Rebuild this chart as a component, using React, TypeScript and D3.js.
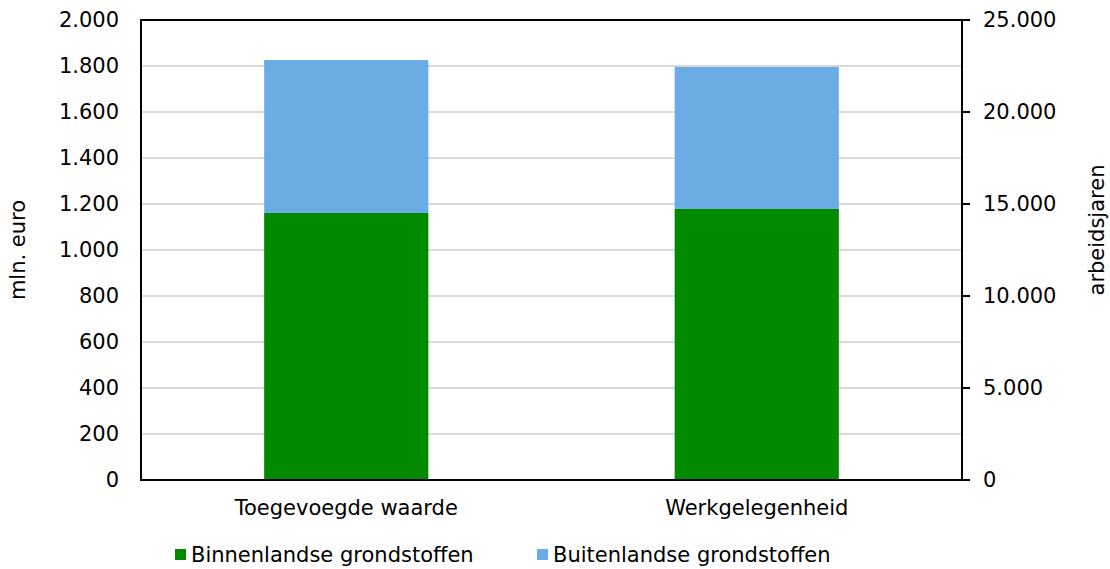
import React from "react";
import * as d3 from "d3";

const categories = ["Toegevoegde waarde", "Werkgelegenheid"];
const seriesNames = ["Binnenlandse grondstoffen", "Buitenlandse grondstoffen"];
const binnenland = [1161, 14730];
const buitenland = [665, 7720];
const categoryAxis = ["left", "right"];
const leftTicks = [0, 200, 400, 600, 800, 1000, 1200, 1400, 1600, 1800, 2000];
const rightTicks = [0, 5000, 10000, 15000, 20000, 25000];
const colors = ["#008a00", "#6aace4"];

const W = 1110;
const H = 569;
const M = { left: 141, right: 962, top: 20, bottom: 480 };
const FONT = "'DejaVu Sans', Verdana, sans-serif";
const FS = 21;

const fmt = (v: number) => d3.format(",")(v).replace(/,/g, ".");

export default function App() {
  const x = d3
    .scaleBand<string>()
    .domain(categories)
    .range([M.left, M.right])
    .paddingInner(0.6)
    .paddingOuter(0.3);
  const yL = d3.scaleLinear().domain([0, 2000]).range([M.bottom, M.top]);
  const yR = d3.scaleLinear().domain([0, 25000]).range([M.bottom, M.top]);

  const stackData = categories.map((c, i) => ({
    cat: c,
    b: binnenland[i],
    u: buitenland[i],
    axis: categoryAxis[i],
  }));
  const stack = d3.stack<any>().keys(["b", "u"]);
  const series = stack(stackData);

  return (
    <svg width={W} height={H} style={{ display: "block", position: "absolute", left: 0, top: 0 }} fontFamily={FONT}>
      <rect width={W} height={H} fill="#fff" />
      {leftTicks.slice(1, -1).map((t) => (
        <line key={t} x1={M.left} x2={M.right} y1={yL(t)} y2={yL(t)} stroke="#d9d9d9" strokeWidth={2} />
      ))}
      {series.map((s, si) =>
        s.map((d, ci) => {
          const y = d.data.axis === "left" ? yL : yR;
          return (
            <rect
              key={si + "-" + ci}
              x={x(d.data.cat)}
              width={x.bandwidth()}
              y={y(d[1])}
              height={y(d[0]) - y(d[1])}
              fill={colors[si]}
            />
          );
        })
      )}
      <rect
        x={M.left}
        y={M.top}
        width={M.right - M.left}
        height={M.bottom - M.top}
        fill="none"
        stroke="#000"
        strokeWidth={2}
      />
      {rightTicks.map((t) => (
        <line key={t} x1={M.right} x2={M.right + 8} y1={yR(t)} y2={yR(t)} stroke="#000" strokeWidth={2} />
      ))}
      {leftTicks.map((t) => (
        <text key={t} x={119} y={yL(t)} textAnchor="end" dominantBaseline="central" fontSize={FS} fill="#000">
          {fmt(t)}
        </text>
      ))}
      {rightTicks.map((t) => (
        <text key={t} x={983} y={yR(t)} textAnchor="start" dominantBaseline="central" fontSize={FS} fill="#000">
          {fmt(t)}
        </text>
      ))}
      <text
        transform={`translate(25,${(M.top + M.bottom) / 2}) rotate(-90)`}
        textAnchor="middle"
        fontSize={FS}
        fill="#000"
      >
        mln. euro
      </text>
      <text
        transform={`translate(1104,230) rotate(-90)`}
        textAnchor="middle"
        fontSize={FS}
        fill="#000"
      >
        arbeidsjaren
      </text>
      {categories.map((c) => (
        <text key={c} x={(x(c) as number) + x.bandwidth() / 2} y={515} textAnchor="middle" fontSize={FS} fill="#000">
          {c}
        </text>
      ))}
      {seriesNames.map((n, i) => {
        const lx = [175, 537][i];
        return (
          <g key={n}>
            <rect x={lx} y={549} width={11} height={11} fill={colors[i]} />
            <text x={lx + 16} y={555} dominantBaseline="central" fontSize={FS} fill="#000">
              {n}
            </text>
          </g>
        );
      })}
    </svg>
  );
}
